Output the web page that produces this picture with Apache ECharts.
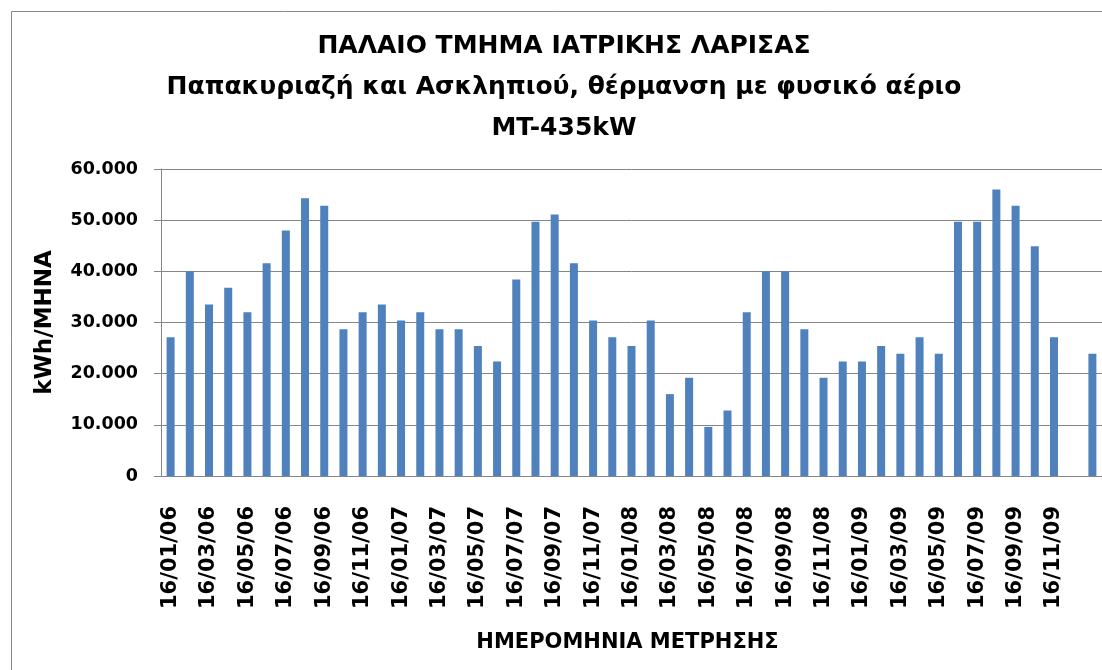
<!DOCTYPE html>
<html>
<head>
<meta charset="utf-8">
<title>ΠΑΛΑΙΟ ΤΜΗΜΑ ΙΑΤΡΙΚΗΣ ΛΑΡΙΣΑΣ</title>
<script src="https://cdn.jsdelivr.net/npm/echarts@6/dist/echarts.min.js"></script>
<style>
  html, body { margin: 0; padding: 0; background: #fff; }
  #chart { width: 1102px; height: 670px; }
</style>
</head>
<body>
<div id="chart"></div>
<script>
// μήνες μέτρησης (16 του μήνα)
const months = [
  '16/01/06', '16/02/06', '16/03/06', '16/04/06', '16/05/06', '16/06/06',
  '16/07/06', '16/08/06', '16/09/06', '16/10/06', '16/11/06', '16/12/06',
  '16/01/07', '16/02/07', '16/03/07', '16/04/07', '16/05/07', '16/06/07',
  '16/07/07', '16/08/07', '16/09/07', '16/10/07', '16/11/07', '16/12/07',
  '16/01/08', '16/02/08', '16/03/08', '16/04/08', '16/05/08', '16/06/08',
  '16/07/08', '16/08/08', '16/09/08', '16/10/08', '16/11/08', '16/12/08',
  '16/01/09', '16/02/09', '16/03/09', '16/04/09', '16/05/09', '16/06/09',
  '16/07/09', '16/08/09', '16/09/09', '16/10/09', '16/11/09', '16/12/09',
  '16/01/10'
]

// κατανάλωση kWh ανά μήνα
const kwh = [
  27100, 40000, 33500, 36800, 32000, 41600, 48000, 54300, 52800, 28700, 32000, 33500,
  30400, 32000, 28700, 28700, 25400, 22400, 38400, 49700, 51100, 41600, 30400, 27100,
  25400, 30400, 16000, 19200, 9600, 12800, 32000, 40000, 40000, 28700, 19200, 22400,
  22400, 25400, 23900, 27100, 23900, 49700, 49700, 56000, 52800, 44900, 27100, null,
  23900
]

const yTicks = [0, 10000, 20000, 30000, 40000, 50000, 60000]

const titleLines = [
  'ΠΑΛΑΙΟ ΤΜΗΜΑ ΙΑΤΡΙΚΗΣ ΛΑΡΙΣΑΣ',
  'Παπακυριαζή και Ασκληπιού, θέρμανση με φυσικό αέριο',
  'MT-435kW'
]

const font = 'DejaVu Sans'
const gridColor = '#868686'

const dom = document.getElementById('chart')
const chart = echarts.init(dom)

const option = {
  backgroundColor: '#fff',
  animation: false,
  title: {
    text: titleLines.join('\n'),
    left: 564,
    top: 26,
    padding: 0,
    textAlign: 'center',
    textVerticalAlign: 'top',
    textStyle: {
      fontFamily: font,
      fontWeight: 'bold',
      fontSize: 25,
      lineHeight: 41,
      color: '#000'
    }
  },
  graphic: [
    {
      type: 'rect',
      silent: true,
      shape: { x: 11.5, y: 11.5, width: 1300, height: 900 },
      style: { fill: 'none', stroke: '#898989', lineWidth: 1 }
    }
  ],
  grid: {
    left: 161,
    right: 0,
    top: 169,
    bottom: 194
  },
  xAxis: {
    type: 'category',
    data: months,
    name: 'ΗΜΕΡΟΜΗΝΙΑ ΜΕΤΡΗΣΗΣ',
    nameLocation: 'middle',
    nameGap: 156,
    nameTextStyle: {
      fontFamily: font,
      fontWeight: 'bold',
      fontSize: 21,
      color: '#000',
      padding: [0, 8, 0, 0]
    },
    axisLine: { lineStyle: { color: gridColor, width: 1 } },
    axisTick: { show: false },
    axisLabel: {
      rotate: 90,
      margin: 30,
      interval: function (index) {
        return index % 2 === 0 && index < 48
      },
      fontFamily: font,
      fontWeight: 'bold',
      fontSize: 21,
      color: '#000'
    }
  },
  yAxis: {
    type: 'value',
    min: yTicks[0],
    max: yTicks[yTicks.length - 1],
    interval: yTicks[1] - yTicks[0],
    name: 'kWh/ΜΗΝΑ',
    nameLocation: 'middle',
    nameGap: 104,
    nameTextStyle: {
      fontFamily: font,
      fontWeight: 'bold',
      fontSize: 23,
      color: '#000'
    },
    axisLine: { show: true, lineStyle: { color: gridColor, width: 1 } },
    axisTick: { show: true, length: 7, lineStyle: { color: gridColor } },
    splitLine: { show: true, lineStyle: { color: gridColor, width: 1 } },
    axisLabel: {
      margin: 23,
      fontFamily: font,
      fontWeight: 'bold',
      fontSize: 17.5,
      color: '#000',
      // τελεία ως διαχωριστικό χιλιάδων
      formatter: function (v) {
        return String(v).replace(/\B(?=(\d{3})+(?!\d))/g, '.')
      }
    }
  },
  series: [
    {
      name: 'kWh',
      type: 'bar',
      data: kwh,
      barWidth: 8,
      itemStyle: { color: '#4F81BD' }
    }
  ]
}

chart.setOption(option)
window.addEventListener('resize', function () {
  chart.resize()
})
</script>
</body>
</html>
